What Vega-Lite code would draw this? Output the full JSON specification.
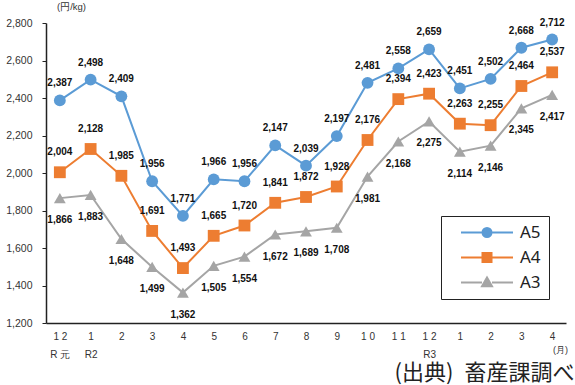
{
  "$schema": "https://vega.github.io/schema/vega-lite/v6.json",
  "width": 520,
  "height": 300,
  "autosize": "none",
  "padding": {"left": 46, "top": 23, "right": 9, "bottom": 62},
  "background": "white",
  "config": {"view": {"stroke": null}, "font": "Liberation Sans"},
  "title": {"text": "(出典)\u2002畜産課調べ", "orient": "bottom", "anchor": "end", "fontSize": 22, "fontWeight": "normal", "font": "Noto Sans CJK JP", "color": "#222", "offset": 0, "dx": 7, "dy": 4},
  "data": {"values": [
    {"date":"2019-12","series":"A5","price":2387},{"date":"2020-01","series":"A5","price":2498},{"date":"2020-02","series":"A5","price":2409},{"date":"2020-03","series":"A5","price":1956},{"date":"2020-04","series":"A5","price":1771},{"date":"2020-05","series":"A5","price":1966},{"date":"2020-06","series":"A5","price":1956},{"date":"2020-07","series":"A5","price":2147},{"date":"2020-08","series":"A5","price":2039},{"date":"2020-09","series":"A5","price":2197},{"date":"2020-10","series":"A5","price":2481},{"date":"2020-11","series":"A5","price":2558},{"date":"2020-12","series":"A5","price":2659},{"date":"2021-01","series":"A5","price":2451},{"date":"2021-02","series":"A5","price":2502},{"date":"2021-03","series":"A5","price":2668},{"date":"2021-04","series":"A5","price":2712},
    {"date":"2019-12","series":"A4","price":2004},{"date":"2020-01","series":"A4","price":2128},{"date":"2020-02","series":"A4","price":1985},{"date":"2020-03","series":"A4","price":1691},{"date":"2020-04","series":"A4","price":1493},{"date":"2020-05","series":"A4","price":1665},{"date":"2020-06","series":"A4","price":1720},{"date":"2020-07","series":"A4","price":1841},{"date":"2020-08","series":"A4","price":1872},{"date":"2020-09","series":"A4","price":1928},{"date":"2020-10","series":"A4","price":2176},{"date":"2020-11","series":"A4","price":2394},{"date":"2020-12","series":"A4","price":2423},{"date":"2021-01","series":"A4","price":2263},{"date":"2021-02","series":"A4","price":2255},{"date":"2021-03","series":"A4","price":2464},{"date":"2021-04","series":"A4","price":2537},
    {"date":"2019-12","series":"A3","price":1866},{"date":"2020-01","series":"A3","price":1883},{"date":"2020-02","series":"A3","price":1648},{"date":"2020-03","series":"A3","price":1499},{"date":"2020-04","series":"A3","price":1362},{"date":"2020-05","series":"A3","price":1505},{"date":"2020-06","series":"A3","price":1554},{"date":"2020-07","series":"A3","price":1672},{"date":"2020-08","series":"A3","price":1689},{"date":"2020-09","series":"A3","price":1708},{"date":"2020-10","series":"A3","price":1981},{"date":"2020-11","series":"A3","price":2168},{"date":"2020-12","series":"A3","price":2275},{"date":"2021-01","series":"A3","price":2114},{"date":"2021-02","series":"A3","price":2146},{"date":"2021-03","series":"A3","price":2345},{"date":"2021-04","series":"A3","price":2417}
  ]},
  "encoding": {
    "x": {"field": "date", "type": "ordinal", "scale": {"type": "point", "padding": 0.45},
      "axis": {"title": "(月)", "titleFontSize": 9, "titleFontWeight": "normal", "titleX": 514, "titleY": 22, "titleAlign": "center", "titleColor": "#333",
        "labelAngle": 0, "ticks": false, "domainColor": "#222", "domainWidth": 1.5, "labelFontSize": 10, "labelColor": "#333", "labelPadding": 8, "labelLineHeight": 18, "labelBaseline": "top",
        "labelExpr": "[slice(datum.value,5,6)=='0' ? slice(datum.value,6,7) : slice(datum.value,5,6)+' '+slice(datum.value,6,7), datum.value=='2019-12' ? 'R 元' : datum.value=='2020-01' ? 'R2' : datum.value=='2020-12' ? 'R3' : '']"}},
    "y": {"field": "price", "type": "quantitative", "scale": {"domain": [1200, 2800], "nice": false, "zero": false},
      "axis": {"title": "(円/kg)", "titleAngle": 0, "titleFontSize": 9.5, "titleFontWeight": "normal", "titleX": 25, "titleY": -12, "titleAlign": "center", "titleColor": "#333",
        "values": [1200,1400,1600,1800,2000,2200,2400,2600,2800], "labelExpr": "format(datum.value, ',')", "grid": false, "domainColor": "#222", "domainWidth": 1.5, "tickColor": "#222", "tickSize": 4, "labelFontSize": 10.5, "labelColor": "#333", "labelPadding": 10}},
    "color": {"field": "series", "type": "nominal", "scale": {"domain": ["A5","A4","A3"], "range": ["#5B9BD5","#ED7D31","#A5A5A5"]}}
  },
  "layer": [
    {"mark": {"type": "line", "strokeWidth": 2},
     "encoding": {"color": {"field": "series", "type": "nominal", "scale": {"domain": ["A5","A4","A3"], "range": ["#5B9BD5","#ED7D31","#A5A5A5"]},
       "legend": {"title": null, "orient": "none", "legendX": 395, "legendY": 193, "direction": "vertical", "strokeColor": "#222", "fillColor": "white", "padding": 8,
         "labelFontSize": 17, "labelFont": "Noto Sans", "labelColor": "#222", "symbolSize": 16, "symbolStrokeWidth": 2, "rowPadding": 7, "labelOffset": 50, "labelLimit": 30,
         "encode": {"labels": {"update": {"dx": {"value": 4}}},
           "symbols": {"update": {
           "shape": {"signal": "datum.value=='A5' ? 'M-13,0L-2.5,0M2.5,0L13,0M2.25,0A2.25,2.25 0 1,1 -2.25,0A2.25,2.25 0 1,1 2.25,0Z' : datum.value=='A4' ? 'M-13,0L-2.5,0M2.5,0L13,0M-2.25,-2.25L2.25,-2.25L2.25,2.25L-2.25,2.25Z' : 'M-13,0L-2.5,0M2.5,0L13,0M0,-2.5L2.5,1.9L-2.5,1.9Z'"},
           "x": {"value": 38},
           "fill": {"signal": "datum.value=='A5' ? '#5B9BD5' : datum.value=='A4' ? '#ED7D31' : '#A5A5A5'"},
           "stroke": {"signal": "datum.value=='A5' ? '#5B9BD5' : datum.value=='A4' ? '#ED7D31' : '#A5A5A5'"},
           "strokeWidth": {"value": 2}}}}}}}},
    {"transform": [{"filter": "datum.series=='A5'"}],
     "mark": {"type": "point", "filled": true, "opacity": 1, "size": 140, "shape": "circle"}},
    {"transform": [{"filter": "datum.series=='A4'"}],
     "mark": {"type": "point", "filled": true, "opacity": 1, "size": 140, "shape": "square"}},
    {"transform": [{"filter": "datum.series=='A3'"}],
     "mark": {"type": "point", "filled": true, "opacity": 1, "size": 140, "shape": "triangle-up"}},
    {"transform": [{"filter": "datum.series=='A5'"}],
     "mark": {"type": "text", "dy": -17, "fontSize": 10, "fontWeight": "bold", "color": "#111"},
     "encoding": {"text": {"field": "price", "type": "quantitative", "format": ","}, "color": {"value": "#111"}}},
    {"transform": [{"filter": "datum.series=='A4'"}],
     "mark": {"type": "text", "dy": -20, "fontSize": 10, "fontWeight": "bold", "color": "#111"},
     "encoding": {"text": {"field": "price", "type": "quantitative", "format": ","}, "color": {"value": "#111"}}},
    {"transform": [{"filter": "datum.series=='A3'"}],
     "mark": {"type": "text", "dy": 22, "fontSize": 10, "fontWeight": "bold", "color": "#111"},
     "encoding": {"text": {"field": "price", "type": "quantitative", "format": ","}, "color": {"value": "#111"}}}
  ]
}
